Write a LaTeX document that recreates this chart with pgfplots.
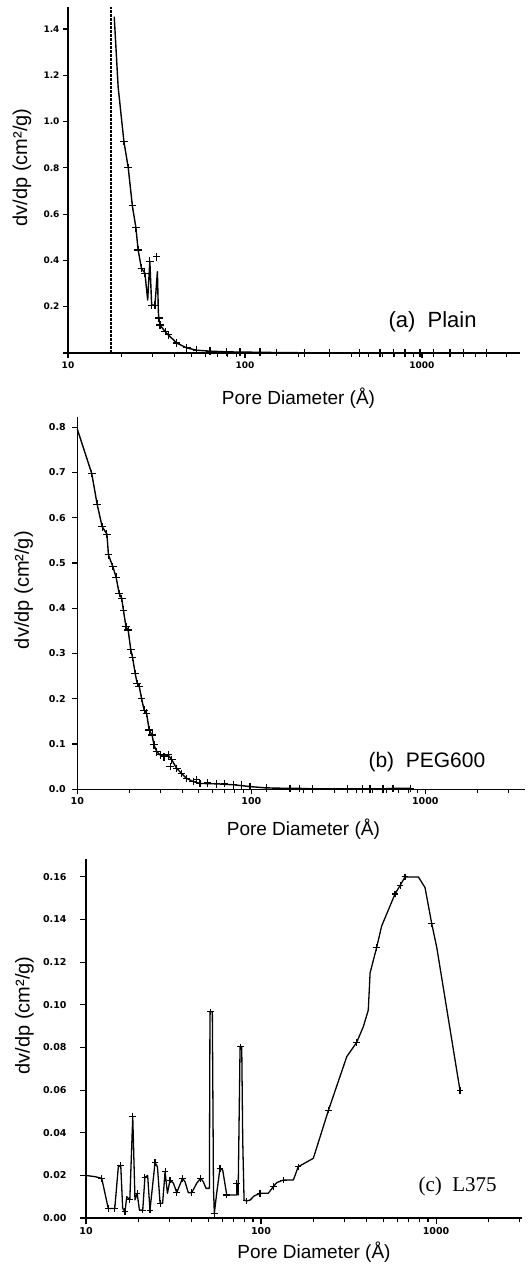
\documentclass[border=0pt]{standalone}
\usepackage{fontspec}
\setmainfont{Liberation Sans}
\newfontfamily\tickfont{DejaVu Sans}
\newfontfamily\seriffont{Liberation Serif}
\usepackage{pgfplots}
\pgfplotsset{compat=1.18}

\tikzset{
  pdline/.style={black, line width=1.4pt, line join=round},
  pdmarks/.style={mark=+, mark size=3.8pt, mark options={black, line width=1.1pt}},
}

\begin{document}
\begin{tikzpicture}
\useasboundingbox (0,0) rectangle (530pt,1269pt);

% (a) Plain
\begin{axis}[
  xmode=log, scale only axis, xmin=10, ymin=0,
  axis x line*=bottom, axis y line*=left,
  axis line style={line width=1.4pt},
  tick align=outside, major tick length=5pt, minor tick length=4pt,
  tick style={black, line width=1.1pt},
  xtick={10,100,1000}, xticklabels={10,100,1000},
  minor xtick={20,30,40,50,60,70,80,90,200,300,400,500,600,700,800,900,2000,3000},
  xlabel={Pore Diameter (Å)}, ylabel={dv/dp (cm²/g)},
  xlabel style={font=\fontsize{19}{22}\selectfont, anchor=center, at={(axis description cs:0.51,-0.130)}},
  ylabel style={font=\fontsize{20}{23}\selectfont, anchor=center, at={(axis description cs:-0.102,0.536)}},
  clip=false,
  at={(68pt,916pt)}, anchor=south west,
  width=452pt, height=346pt,
  xmax=3580, ymax=1.495,
  ytick={0,0.2,0.4,0.6,0.8,1.0,1.2,1.4},
  yticklabels={,0.2,0.4,0.6,0.8,1.0,1.2,1.4},
  ticklabel style={font=\tickfont\bfseries\fontsize{9}{10}\selectfont},
]
\addplot[black, line width=1.1pt, dash pattern=on 2.5pt off 1.5pt] coordinates {(17.5,0) (17.5,1.495)};
\addplot[pdline, mark=none] coordinates {
  (18.25,1.453)(19.2,1.15)(20.7,0.913)(21.9,0.80)(23.1,0.636)(24.2,0.541)
  (24.9,0.445)(26.0,0.366)(27.2,0.345)(28.2,0.229)(29.0,0.397)(29.7,0.207)
  (31.0,0.207)(32.0,0.351)(32.4,0.178)(32.6,0.151)(33.1,0.121)(35.4,0.092)
  (36.9,0.078)(41.1,0.043)(46.9,0.022)(53.3,0.012)(63.4,0.008)(78.8,0.005)
  (93.7,0.004)(121.6,0.003)(151,0.002)(218,0.001)(302,0.001)(446,0)
  (579,0)(689,0)(802,0)(974,0)(1158,0)(1439,0)(1711,0)(2321,0)
};
\addplot[only marks, pdmarks] coordinates {
  (20.7,0.913)(21.9,0.80)(23.1,0.636)(24.2,0.541)(24.9,0.445)(26.0,0.366)
  (27.2,0.345)(29.0,0.397)(29.7,0.207)(31.0,0.207)(31.7,0.416)(32.6,0.151)
  (33.1,0.121)(35.4,0.092)(36.9,0.078)(41.1,0.043)(46.9,0.022)(53.3,0.012)
  (63.4,0.008)(78.8,0.005)(93.7,0.004)(121.6,0.003)(151,0.002)(218,0.001)
  (302,0.001)(446,0)(579,0)(689,0)(802,0)(974,0)(1158,0)(1439,0)(1711,0)(2321,0)
};
\end{axis}

% (b) PEG600
\begin{axis}[
  xmode=log, scale only axis, xmin=10, ymin=0,
  axis x line*=bottom, axis y line*=left,
  axis line style={line width=1.4pt},
  tick align=outside, major tick length=5pt, minor tick length=4pt,
  tick style={black, line width=1.1pt},
  xtick={10,100,1000}, xticklabels={10,100,1000},
  minor xtick={20,30,40,50,60,70,80,90,200,300,400,500,600,700,800,900,2000,3000},
  xlabel={Pore Diameter (Å)}, ylabel={dv/dp (cm²/g)},
  xlabel style={font=\fontsize{19}{22}\selectfont, anchor=center, at={(axis description cs:0.505,-0.107)}},
  ylabel style={font=\fontsize{20}{23}\selectfont, anchor=center, at={(axis description cs:-0.120,0.535)}},
  clip=false,
  at={(77.3pt,479.7pt)}, anchor=south west,
  width=447.7pt, height=372.3pt,
  xmax=3740, ymax=0.8227,
  ytick={0,0.1,0.2,0.3,0.4,0.5,0.6,0.7,0.8},
  yticklabels={0.0,0.1,0.2,0.3,0.4,0.5,0.6,0.7,0.8},
  ticklabel style={font=\tickfont\bfseries\fontsize{9.5}{10}\selectfont},
  yticklabel style={xshift=-3pt},
]
\addplot[pdline, mark=none] coordinates {
  (10,0.796)(12.1,0.698)(13.0,0.630)(13.9,0.580)(14.8,0.564)(15.1,0.518)
  (16.0,0.492)(16.7,0.469)(17.4,0.433)(18.0,0.422)(18.4,0.396)(19.05,0.359)
  (19.6,0.352)(20.3,0.308)(20.8,0.291)(21.5,0.256)(22.1,0.234)(22.7,0.227)
  (23.4,0.201)(24.2,0.175)(25.0,0.168)(25.9,0.131)(26.9,0.120)(27.6,0.098)
  (28.6,0.083)(29.9,0.076)(31.5,0.072)(33.3,0.076)(34.9,0.065)(37.3,0.046)
  (39.8,0.035)(42.5,0.024)(46.4,0.017)(50.7,0.013)(63.2,0.012)(78.8,0.010)
  (98.3,0.006)(122,0.003)(166.8,0.002)(190,0.002)(226,0.001)(355,0.001)
  (438,0.001)(481,0.001)(571,0.001)(652,0.002)(817,0.002)
};
\addplot[only marks, pdmarks] coordinates {
  (12.1,0.698)(13.0,0.630)(13.9,0.580)(14.8,0.564)(15.1,0.518)
  (16.0,0.492)(16.7,0.469)(17.4,0.433)(18.0,0.422)(18.4,0.396)(19.05,0.359)
  (19.6,0.352)(20.3,0.308)(20.8,0.291)(21.5,0.256)(22.1,0.234)(22.7,0.227)
  (23.4,0.201)(24.2,0.175)(25.0,0.168)(25.9,0.131)(26.9,0.120)(27.6,0.098)
  (28.6,0.083)(29.9,0.076)(31.5,0.072)(33.3,0.076)(34.2,0.050)(34.9,0.065)
  (37.3,0.046)(39.8,0.035)(42.5,0.024)(46.4,0.017)(48.5,0.022)(50.7,0.013)
  (56.0,0.014)(63.2,0.012)(70.0,0.013)(78.8,0.010)(88.0,0.009)(98.3,0.006)
  (122,0.003)(166.8,0.002)(190,0.002)(226,0.001)(355,0.001)(438,0.001)
  (481,0.001)(571,0.001)(652,0.002)(817,0.002)
};
\end{axis}

% (c) L375
\begin{axis}[
  xmode=log, scale only axis, xmin=10, ymin=0,
  axis x line*=bottom, axis y line*=left,
  axis line style={line width=1.4pt},
  tick align=outside, major tick length=6pt, minor tick length=4pt,
  tick style={black, line width=1.1pt},
  xtick={10,100,1000}, xticklabels={10,100,1000},
  minor xtick={20,30,40,50,60,70,80,90,200,300,400,500,600,700,800,900,2000,3000},
  xlabel={Pore Diameter (Å)}, ylabel={dv/dp (cm²/g)},
  xlabel style={font=\fontsize{19}{22}\selectfont, anchor=center, at={(axis description cs:0.523,-0.094)}},
  ylabel style={font=\fontsize{20}{23}\selectfont, anchor=center, at={(axis description cs:-0.141,0.564)}},
  clip=false,
  at={(86pt,51pt)}, anchor=south west,
  width=436pt, height=359pt,
  xmax=3098, ymax=0.1684,
  ytick={0,0.02,0.04,0.06,0.08,0.10,0.12,0.14,0.16},
  yticklabels={0.00,0.02,0.04,0.06,0.08,0.10,0.12,0.14,0.16},
  ticklabel style={font=\tickfont\bfseries\fontsize{9.5}{10}\selectfont},
  yticklabel style={xshift=-10pt},
]
\addplot[pdline, line width=1.3pt, mark=none] coordinates {
  (10.1,0.0199)(11.25,0.0194)(12.3,0.0186)(13.4,0.0045)(14.6,0.0045)(15.3,0.024)
  (15.8,0.0245)(16.2,0.0045)(16.7,0.003)(17.1,0.010)(17.8,0.0085)(18.5,0.0475)
  (19.05,0.0085)(19.6,0.0116)(20.2,0.0037)(21.1,0.0037)(21.7,0.019)(22.5,0.020)
  (23.2,0.0037)(24.8,0.026)(25.6,0.024)(26.5,0.0069)(27.4,0.0069)(28.3,0.0217)
  (29.2,0.0116)(30.2,0.0178)(31.6,0.0163)(33.0,0.0119)(35.6,0.0186)(36.8,0.017)
  (38.4,0.0119)(40.2,0.0119)(42.9,0.0163)(45.2,0.0186)(46.8,0.017)(48.5,0.0139)
  (50.7,0.0139)(51.1,0.0967)(52.7,0.0967)(53.5,0.0139)(54.1,0.0022)(55.8,0.0116)
  (58.3,0.0233)(60.4,0.0225)(63.7,0.0108)(68.0,0.0108)(72.6,0.0108)(72.6,0.0163)
  (74.0,0.0108)(75.9,0.0803)(77.6,0.0803)(78.6,0.0366)(80.0,0.0084)(82.8,0.008)
  (86.5,0.0084)(91.2,0.0103)(98.6,0.0116)(110,0.0116)(117.6,0.0147)(123,0.0166)
  (134,0.0178)(153,0.0178)(163,0.0240)(180,0.0260)(199,0.028)(243,0.0506)
  (309,0.0757)(352,0.0824)(384,0.0897)(410,0.0975)(420,0.115)(458,0.127)(489,0.137)
  (583,0.152)(623,0.156)(665,0.160)(792,0.160)(865,0.155)(945,0.138)
  (1009,0.127)(1371,0.0597)
};
\addplot[only marks, pdmarks, mark size=3.3pt] coordinates {
  (12.3,0.0186)(13.4,0.0045)(14.6,0.0045)(15.8,0.0245)(16.7,0.003)(17.8,0.0085)
  (18.5,0.0475)(19.6,0.0116)(21.1,0.0037)(21.7,0.019)(23.2,0.0037)(24.8,0.026)
  (26.5,0.0069)(28.3,0.0217)(30.2,0.0178)(33.0,0.0119)(35.6,0.0186)(40.2,0.0119)
  (45.2,0.0186)(51.6,0.0967)(54.1,0.0022)(58.3,0.0233)(63.7,0.0108)(72.6,0.0163)
  (76.5,0.0803)(82.8,0.008)(98.6,0.0116)(117.6,0.0147)(134,0.0178)(163,0.0240)
  (243,0.0506)(352,0.0824)(458,0.127)(583,0.152)(623,0.156)(665,0.160)
  (945,0.138)(1371,0.0597)
};
\end{axis}

\node[anchor=west, font=\fontsize{22}{24}\selectfont] at (385pt,947pt) {(a)\ \ Plain};
\node[anchor=west, font=\fontsize{21}{24}\selectfont] at (365pt,507pt) {(b)\ \ PEG600};
\node[anchor=west, font=\seriffont\fontsize{21}{24}\selectfont] at (415pt,83pt) {(c)\ \ L375};
\end{tikzpicture}
\end{document}
